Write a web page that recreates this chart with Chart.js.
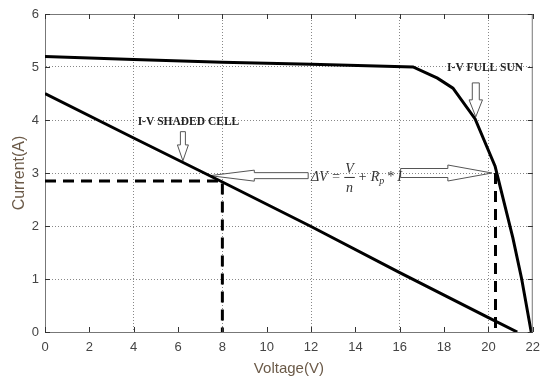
<!DOCTYPE html>
<html>
<head>
<meta charset="utf-8">
<script src="https://cdn.jsdelivr.net/npm/chart.js"></script>
<style>
  html, body { margin: 0; padding: 0; background: #fff; }
  #wrap { width: 548px; height: 381px; }
</style>
</head>
<body>
<div id="wrap"><canvas id="ivChart"></canvas></div>
<script>
// axis ticks
const xTicks = [0, 2, 4, 6, 8, 10, 12, 14, 16, 18, 20, 22];
const yTicks = [0, 1, 2, 3, 4, 5, 6];

// I-V curve, full sun
const fullSunV = [0, 4, 8, 12, 16.6, 17.7, 18.4, 19.4, 20.3, 20.4, 21.1, 21.5, 21.93];
const fullSunI = [5.2, 5.14, 5.09, 5.05, 5.0, 4.79, 4.6, 4.02, 3.13, 2.96, 1.78, 1.0, 0];

// I-V curve, shaded cell
const shadedV = [0, 4, 8, 12, 16, 20, 21.3];
const shadedI = [4.5, 3.66, 2.83, 1.99, 1.12, 0.27, 0];

// operating point guides (dashed)
const guideShadedV = [0, 8, 8];
const guideShadedI = [2.85, 2.85, 0];
const guideFullV = [20.32, 20.32];
const guideFullI = [3.0, 0];

const toPoints = (xs, ys) => xs.map((v, i) => ({ x: v, y: ys[i] }));

// annotation arrows, in data units
const arrowsH = [
  { tail: 11.87, base: 9.44, tip: 7.44, y: 2.95, body: 3, head: 5.5, fill: true },
  { tail: 16.04, base: 18.17, tip: 20.16, y: 3.0, body: 4.5, head: 8, fill: false }
];
const arrowsV = [
  { x: 6.22, top: 3.78, base: 3.53, tip: 3.23, body: 2.5, head: 5.5 },
  { x: 19.43, top: 4.70, base: 4.38, tip: 4.06, body: 3.5, head: 6.7 }
];

const overlay = {
  id: "overlay",
  beforeDatasetsDraw(chart) {
    const { ctx, scales: { x, y } } = chart;
    ctx.save();
    ctx.strokeStyle = "#555";
    ctx.lineWidth = 1;
    ctx.fillStyle = "#fff";
    arrowsH.forEach(a => {
      const xt = x.getPixelForValue(a.tail), xb = x.getPixelForValue(a.base), xp = x.getPixelForValue(a.tip);
      const yc = y.getPixelForValue(a.y);
      ctx.beginPath();
      ctx.moveTo(xt, yc - a.body);
      ctx.lineTo(xb, yc - a.body);
      ctx.lineTo(xb, yc - a.head);
      ctx.lineTo(xp, yc);
      ctx.lineTo(xb, yc + a.head);
      ctx.lineTo(xb, yc + a.body);
      ctx.lineTo(xt, yc + a.body);
      ctx.closePath();
      if (a.fill) ctx.fill();
      ctx.stroke();
    });
    arrowsV.forEach(a => {
      const xc = x.getPixelForValue(a.x);
      const yt = y.getPixelForValue(a.top), yb = y.getPixelForValue(a.base), yp = y.getPixelForValue(a.tip);
      ctx.beginPath();
      ctx.moveTo(xc - a.body, yt);
      ctx.lineTo(xc - a.body, yb);
      ctx.lineTo(xc - a.head, yb);
      ctx.lineTo(xc, yp);
      ctx.lineTo(xc + a.head, yb);
      ctx.lineTo(xc + a.body, yb);
      ctx.lineTo(xc + a.body, yt);
      ctx.closePath();
      ctx.fill();
      ctx.stroke();
    });
    ctx.restore();
  },
  afterDraw(chart) {
    const { ctx, chartArea: a, scales: { x, y } } = chart;
    ctx.save();
    // frame top/right
    ctx.strokeStyle = "#777";
    ctx.lineWidth = 1;
    ctx.beginPath();
    ctx.moveTo(a.left, a.top + 0.5);
    ctx.lineTo(a.right - 0.5, a.top + 0.5);
    ctx.lineTo(a.right - 0.5, a.bottom);
    ctx.stroke();
    // inward tick marks
    ctx.strokeStyle = "#333";
    ctx.beginPath();
    xTicks.forEach(v => {
      const px = Math.round(x.getPixelForValue(v)) + 0.5;
      ctx.moveTo(px, a.bottom); ctx.lineTo(px, a.bottom - 5);
      ctx.moveTo(px, a.top); ctx.lineTo(px, a.top + 5);
    });
    yTicks.forEach(v => {
      const py = Math.round(y.getPixelForValue(v)) + 0.5;
      ctx.moveTo(a.left, py); ctx.lineTo(a.left + 5, py);
      ctx.moveTo(a.right, py); ctx.lineTo(a.right - 5, py);
    });
    ctx.stroke();

    // labels
    ctx.fillStyle = "#222";
    ctx.textAlign = "center";
    ctx.textBaseline = "middle";
    ctx.font = "bold 11.5px 'Liberation Serif'";
    ctx.fillText("I-V SHADED CELL", x.getPixelForValue(6.47), y.getPixelForValue(3.97));
    ctx.fillText("I-V FULL SUN", x.getPixelForValue(19.85), y.getPixelForValue(4.98));

    // formula  ΔV = V/n + Rp * I
    ctx.fillStyle = "#333";
    ctx.textAlign = "left";
    ctx.textBaseline = "alphabetic";
    ctx.font = "italic 14px 'Liberation Serif'";
    let fx = x.getPixelForValue(12.0);
    const fy = y.getPixelForValue(2.85);
    ctx.fillText("ΔV =", fx, fy);
    fx += ctx.measureText("ΔV = ").width;
    const fw = ctx.measureText("V").width + 2;
    ctx.textAlign = "center";
    ctx.fillText("V", fx + fw / 2, fy - 8);
    ctx.fillText("n", fx + fw / 2, fy + 11);
    ctx.fillRect(fx, fy - 4, fw, 1);
    fx += fw + 3;
    ctx.textAlign = "left";
    ctx.fillText("+ R", fx, fy);
    fx += ctx.measureText("+ R").width;
    ctx.font = "italic 10px 'Liberation Serif'";
    ctx.fillText("p", fx, fy + 3);
    fx += ctx.measureText("p ").width;
    ctx.font = "italic 14px 'Liberation Serif'";
    ctx.fillText("* I", fx, fy);
    ctx.restore();
  }
};

new Chart(document.getElementById("ivChart"), {
  type: "line",
  data: {
    datasets: [
      { data: toPoints(fullSunV, fullSunI), borderColor: "#000", borderWidth: 3 },
      { data: toPoints(shadedV, shadedI), borderColor: "#000", borderWidth: 3 },
      { data: toPoints(guideShadedV, guideShadedI), borderColor: "#000", borderWidth: 3, borderDash: [11, 7] },
      { data: toPoints(guideFullV, guideFullI), borderColor: "#000", borderWidth: 3, borderDash: [11, 7] }
    ]
  },
  options: {
    responsive: true,
    maintainAspectRatio: false,
    animation: false,
    parsing: false,
    elements: { point: { radius: 0 }, line: { tension: 0, borderCapStyle: "butt" } },
    layout: { padding: { top: 14, right: 7, left: 0, bottom: 0 } },
    plugins: { legend: { display: false }, tooltip: { enabled: false } },
    scales: {
      x: {
        type: "linear",
        min: 0,
        max: 22,
        afterBuildTicks: s => { s.ticks = xTicks.map(v => ({ value: v })); },
        afterFit: s => { s.height = 49; },
        ticks: { padding: 8, color: "#444", font: { family: "Liberation Sans", size: 13 } },
        grid: {
          drawTicks: false,
          color: c => (c.tick && c.tick.value % 4 === 0 && c.tick.value > 0 && c.tick.value < 22) ? "#888" : "rgba(0,0,0,0)"
        },
        border: { display: true, color: "#777", width: 1, dash: [1, 2] },
        title: {
          display: true,
          text: "Voltage(V)",
          color: "#6b5a48",
          padding: { top: 0, bottom: 3 },
          font: { family: "Liberation Sans", size: 15 }
        }
      },
      y: {
        type: "linear",
        min: 0,
        max: 6,
        afterBuildTicks: s => { s.ticks = yTicks.map(v => ({ value: v })); },
        afterFit: s => { s.width = 45; },
        ticks: { padding: 6, color: "#444", font: { family: "Liberation Sans", size: 13 } },
        grid: {
          drawTicks: false,
          color: c => (c.tick && c.tick.value > 0 && c.tick.value < 6) ? "#888" : "rgba(0,0,0,0)"
        },
        border: { display: true, color: "#777", width: 1, dash: [1, 2] },
        title: {
          display: true,
          text: "Current(A)",
          color: "#6b5a48",
          padding: { top: 10, bottom: 0 },
          font: { family: "Liberation Sans", size: 16 }
        }
      }
    }
  },
  plugins: [overlay]
});
</script>
</body>
</html>
